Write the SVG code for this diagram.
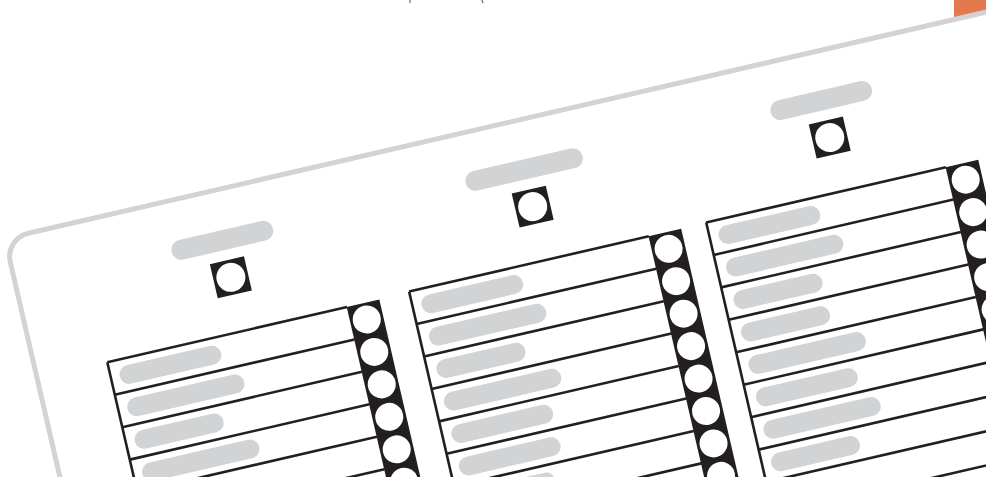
<svg xmlns="http://www.w3.org/2000/svg" width="986" height="477" viewBox="0 0 986 477">
<style>
.bg{fill:#fff}
.orange{fill:#e3794d}
.border{fill:#fff;stroke:#d1d3d4;stroke-width:5}
.pill{fill:#d1d3d4}
.grid{fill:none;stroke:#231f20;stroke-width:2.6}
.ink{fill:#231f20}
.hole{fill:#fff}
.mark{stroke:#6d6e71;stroke-width:1.2;fill:none}
</style>
<defs>
<g id="table">
<rect class="ink" x="245.7" y="0" width="33.5" height="333"/>
<path class="grid" d="M0 0H246M0 33.3H246M0 66.6H246M0 99.9H246M0 133.2H246M0 166.5H246M0 199.8H246M0 233.1H246M0 266.4H246M0 299.7H246M0 333H246M0 0V333"/>
<circle class="hole" cx="262.45" cy="16.65" r="14"/>
<circle class="hole" cx="262.45" cy="49.95" r="14"/>
<circle class="hole" cx="262.45" cy="83.25" r="14"/>
<circle class="hole" cx="262.45" cy="116.55" r="14"/>
<circle class="hole" cx="262.45" cy="149.85" r="14"/>
<circle class="hole" cx="262.45" cy="183.15" r="14"/>
<circle class="hole" cx="262.45" cy="216.45" r="14"/>
<circle class="hole" cx="262.45" cy="249.75" r="14"/>
<circle class="hole" cx="262.45" cy="283.05" r="14"/>
<circle class="hole" cx="262.45" cy="316.35" r="14"/>
<rect class="ink" x="122" y="-72.5" width="35" height="35"/>
<circle class="hole" cx="139.5" cy="-55" r="14.5"/>
</g>
</defs>
<rect class="bg" x="0" y="0" width="986" height="477"/>
<rect class="orange" x="954" y="0" width="32" height="30"/>
<line class="mark" x1="410" y1="0" x2="410" y2="3"/>
<path class="mark" d="M482 0Q482.3 2 483.3 3.2"/>
<g id="ballot" transform="translate(107.3,362.3) rotate(-13)">
<rect class="border" x="-72" y="-143.5" width="1300" height="900" rx="24"/>
<g id="column-1">
<use href="#table"/>
<rect class="pill" x="87.5" y="-103" width="104" height="20" rx="10"/>
<rect class="pill" x="9" y="7.15" width="104" height="19" rx="9.5"/>
<rect class="pill" x="9" y="40.45" width="120" height="19" rx="9.5"/>
<rect class="pill" x="9" y="73.75" width="91" height="19" rx="9.5"/>
<rect class="pill" x="9" y="107.05" width="120" height="19" rx="9.5"/>
</g>
<g id="column-2" transform="translate(310,-1)">
<use href="#table"/>
<rect class="pill" x="79.5" y="-103" width="120" height="20" rx="10"/>
<rect class="pill" x="9" y="7.15" width="104" height="19" rx="9.5"/>
<rect class="pill" x="9" y="40.45" width="120" height="19" rx="9.5"/>
<rect class="pill" x="9" y="73.75" width="91" height="19" rx="9.5"/>
<rect class="pill" x="9" y="107.05" width="120" height="19" rx="9.5"/>
<rect class="pill" x="9" y="140.35" width="104" height="19" rx="9.5"/>
<rect class="pill" x="9" y="173.65" width="104" height="19" rx="9.5"/>
<rect class="pill" x="9" y="206.95" width="91" height="19" rx="9.5"/>
</g>
<g id="column-3" transform="translate(615,-1.5)">
<use href="#table"/>
<rect class="pill" x="87.5" y="-103" width="104" height="20" rx="10"/>
<rect class="pill" x="9" y="7.15" width="104" height="19" rx="9.5"/>
<rect class="pill" x="9" y="40.45" width="120" height="19" rx="9.5"/>
<rect class="pill" x="9" y="73.75" width="91" height="19" rx="9.5"/>
<rect class="pill" x="9" y="107.05" width="91" height="19" rx="9.5"/>
<rect class="pill" x="9" y="140.35" width="120" height="19" rx="9.5"/>
<rect class="pill" x="9" y="173.65" width="104" height="19" rx="9.5"/>
<rect class="pill" x="9" y="206.95" width="120" height="19" rx="9.5"/>
<rect class="pill" x="9" y="240.25" width="91" height="19" rx="9.5"/>
</g>
</g>
</svg>
